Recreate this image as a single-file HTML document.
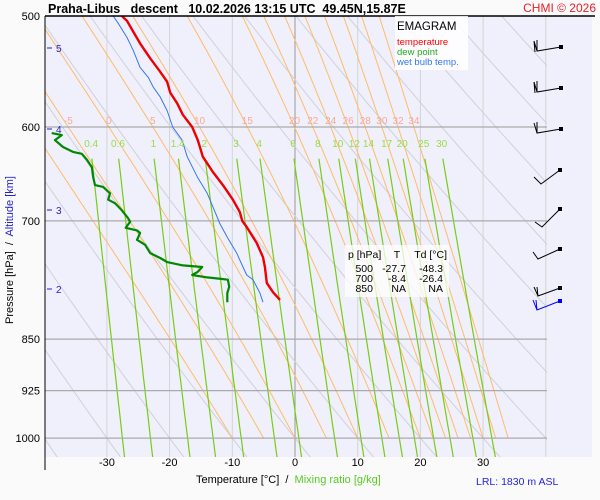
<!DOCTYPE html>
<html><head><meta charset="utf-8"><style>
body{margin:0;background:#fafafa;}
svg{display:block;font-family:"Liberation Sans",sans-serif;}
</style></head><body>
<svg id="c" width="600" height="500">
<rect x="45" y="16" width="547" height="441" fill="#f0f0fc"/>
<defs><clipPath id="clip"><rect x="45" y="16" width="502" height="441"/></clipPath></defs>
<g id="bg" clip-path="url(#clip)"></g>
<g id="series" clip-path="url(#clip)"></g>
<g id="labels"></g>
<line x1="45" y1="16" x2="595" y2="16" stroke="#000" stroke-width="1.5"/>
<line x1="45" y1="16" x2="45" y2="470" stroke="#000" stroke-width="1"/>
<text x="48" y="13" font-size="12.5" font-weight="bold" xml:space="preserve">Praha-Libus   descent   10.02.2026 13:15 UTC  49.45N,15.87E</text>
<text x="596" y="12" font-size="12" fill="#e8202a" text-anchor="end">CHMI © 2026</text>
<g>
<rect x="395" y="16" width="73" height="54" fill="#fff" opacity="0.85"/>
<text x="397" y="30" font-size="11.5">EMAGRAM</text>
<text x="397" y="45" font-size="9.5" fill="#f00">temperature</text>
<text x="397" y="55" font-size="9.5" fill="#2a2">dew point</text>
<text x="397" y="65" font-size="9.5" fill="#3377ee">wet bulb temp.</text>
</g>
<g font-size="10.5">
<rect x="345" y="245" width="104" height="52" fill="#fff" opacity="0.75"/>
<text x="348" y="258">p [hPa]</text><text x="397" y="258" text-anchor="middle">T</text><text x="447" y="258" text-anchor="end">Td [°C]</text>
<text x="373" y="272" text-anchor="end">500</text><text x="406" y="272" text-anchor="end">-27.7</text><text x="443" y="272" text-anchor="end">-48.3</text>
<text x="373" y="282" text-anchor="end">700</text><text x="406" y="282" text-anchor="end">-8.4</text><text x="443" y="282" text-anchor="end">-26.4</text>
<text x="373" y="292" text-anchor="end">850</text><text x="406" y="292" text-anchor="end">NA</text><text x="443" y="292" text-anchor="end">NA</text>
</g>
<text transform="translate(13,250) rotate(-90)" font-size="11" text-anchor="middle" xml:space="preserve">Pressure [hPa]  /  <tspan fill="#22c">Altitude [km]</tspan></text>
<text x="196" y="483" font-size="11" xml:space="preserve">Temperature [°C]  /  <tspan fill="#5c2">Mixing ratio [g/kg]</tspan></text>
<text x="476" y="485" font-size="10.5" fill="#22e">LRL: 1830 m ASL</text>
<g id="barbs" stroke="#000" stroke-width="1" fill="none">
<path d="M561 47 L537 51 L534 41 M537 51 L537 40 M535 52 L534 41"/>
<path d="M561 88 L537 92 L534 82 M537 92 L537 81 M535 93 L534 82"/>
<path d="M561 129 L537 133 L534 123 M537 133 L537 122"/>
<path d="M560 170 L541 184 L534 177"/>
<path d="M560 209 L542 227 L535 222"/>
<path d="M560 249 L538 259 L533 252"/>
<path d="M560 288 L538 296 L534 287 M538 296 L537 287"/>
<path d="M560 301 L537 310 L533 300 M537 310 L536 300" stroke="#00f"/>
<g fill="#000" stroke="none"><rect x="559" y="45" width="4" height="4"/><rect x="559" y="86" width="4" height="4"/><rect x="559" y="127" width="4" height="4"/><rect x="558" y="168" width="4" height="4"/><rect x="558" y="207" width="4" height="4"/><rect x="558" y="247" width="4" height="4"/><rect x="558" y="286" width="4" height="4"/><rect x="558" y="299" width="4" height="4" fill="#00f"/></g>
</g>
</svg>
<script>
const tempP=[500,504,513,523,536,548,557,567,577,588,600,613,630,646,660,676,690,700,707,726,743,755,775,787,797];
const tempT=[-27.6,-26.8,-25.8,-24.7,-23.1,-21.5,-20.4,-19.9,-18.8,-17.9,-16.4,-15.5,-14.7,-13.1,-11.5,-9.9,-8.8,-8.4,-7.7,-6.1,-5.1,-4.8,-4.5,-3.5,-2.4];
const wbP=[500,506,518,529,544,553,562,571,584,600,613,630,651,669,684,703,719,738,755,765,771,788,800];
const wbT=[-29.0,-28.2,-26.8,-25.8,-24.7,-23.4,-22.6,-21.5,-20.4,-19.5,-18.0,-17.2,-15.6,-14.0,-13.1,-12.0,-10.8,-9.3,-8.3,-7.7,-6.7,-5.6,-5.1];
const dewP=[606,608,613,620,625,627,633,641,651,660,662,669,676,680,688,697,701,708,711,714,722,728,738,744,749,753,755,761,765,768,770,771,780,788,800];
const dewT=[-38.8,-37.2,-38.3,-37.0,-35.4,-34.0,-33.2,-32.4,-32.2,-31.9,-30.6,-29.5,-29.8,-28.7,-27.6,-26.6,-26.3,-27.0,-25.2,-24.7,-25.2,-23.9,-23.1,-21.5,-20.4,-17.9,-14.8,-15.5,-16.4,-14.0,-11.6,-10.7,-10.5,-10.8,-10.8];
const pGrid=[600,700,850,925,1000];
const tTicks=[-30,-20,-10,0,10,20,30];
const mixR=[0.4,0.6,1,1.4,2,3,4,6,8,10,12,14,17,20,25,30];
const thetaW=[-10,-5,0,5,10,15,20,22,24,26,28,30,32,34];
const altKm=[5,4,3,2];
const altY=[48,129,210,289];

const NS='http://www.w3.org/2000/svg';
const X=t=>295+6.27*t;
const Y=p=>16+609*Math.log(p/500);
function mk(tag,attrs,parent){const e=document.createElementNS(NS,tag);for(const k in attrs)e.setAttribute(k,attrs[k]);parent.appendChild(e);return e;}
const bg=document.getElementById('bg'),ser=document.getElementById('series'),lab=document.getElementById('labels');
function poly(pts){return pts.map(q=>q[0].toFixed(1)+','+q[1].toFixed(1)).join(' ');}

for(let t=-40;t<=40;t+=10){const l=mk('line',{x1:X(t),y1:16,x2:X(t),y2:457,stroke:t===0?'#999':'#d4d4d4','stroke-width':1},bg);

}
for(let th=-40;th<=140;th+=10){const pts=[];for(let p=480;p<=1040;p+=10){pts.push([X((th+273.15)*Math.pow(p/1000,0.2857)-273.15),Y(p)]);}
const l=mk('polyline',{points:poly(pts),fill:'none',stroke:'#d0d0d8','stroke-width':1},bg);

}
function es(tc){return 6.112*Math.exp(17.67*tc/(tc+243.5));}
const lw600={};
thetaW.forEach(tw=>{let T=tw+273.15;const pts=[[X(tw),Y(1000)]];for(let p=1000;p>480;p-=2){const e=es(T-273.15),rs=0.622*e/(p-e);const d=(287*T+2.5e6*rs)/(p*(1004+2.5e6*2.5e6*rs*0.622/(287*T*T)));T-=d*2;pts.push([X(T-273.15),Y(p-2)]);if(Math.abs(p-2-600)<1)lw600[tw]=T-273.15;}
const l=mk('polyline',{points:poly(pts),fill:'none',stroke:'#ffbb66','stroke-width':1},bg);


if(tw>-10){const t=mk('text',{x:X(lw600[tw]),y:124,'font-size':10,fill:'#f7a898','text-anchor':'middle'},lab);t.textContent=tw;

}});
function tdOf(w,p){const e=w*p/(622+w);const a=Math.log(e/6.112);return 243.5*a/(17.67-a);}
mixR.forEach(w=>{const pts=[];for(let p=632;p<=1040;p+=10)pts.push([X(tdOf(w,p)),Y(p)]);
const l=mk('polyline',{points:poly(pts),fill:'none',stroke:'#77cc11','stroke-width':1.2},bg);


const t=mk('text',{x:X(tdOf(w,625)),y:147,'font-size':10,fill:'#99dd44','text-anchor':'middle'},lab);t.textContent=w;

});
pGrid.forEach(p=>{const l=mk('line',{x1:45,y1:Y(p),x2:547,y2:Y(p),stroke:'#aaa','stroke-width':1.2},bg);

});
[500].concat(pGrid).forEach(p=>{const t=mk('text',{x:40,y:Y(p)+4,'font-size':11,'text-anchor':'end'},lab);t.textContent=p;

});
tTicks.forEach(v=>{const t=mk('text',{x:X(v),y:466,'font-size':11,'text-anchor':'middle'},lab);t.textContent=v;

});
altKm.forEach((k,i)=>{const t=mk('text',{x:56,y:altY[i]+4,'font-size':10,fill:'#22c'},lab);t.textContent=k;


const l=mk('line',{x1:47,y1:altY[i],x2:52,y2:altY[i],stroke:'#22c'},lab);

});
function series(P,T,col,w,name){const l=mk('polyline',{points:poly(P.map((p,i)=>[X(T[i]),Y(p)])),fill:'none',stroke:col,'stroke-width':w,'stroke-linejoin':'round'},ser);

}
series(wbP,wbT,'#3377ee',1,'wet-bulb-line');
series(dewP,dewT,'#008800',2.2,'dew-point-line');
series(tempP,tempT,'#ee0000',2.4,'temperature-line');
</script>
</body></html>
